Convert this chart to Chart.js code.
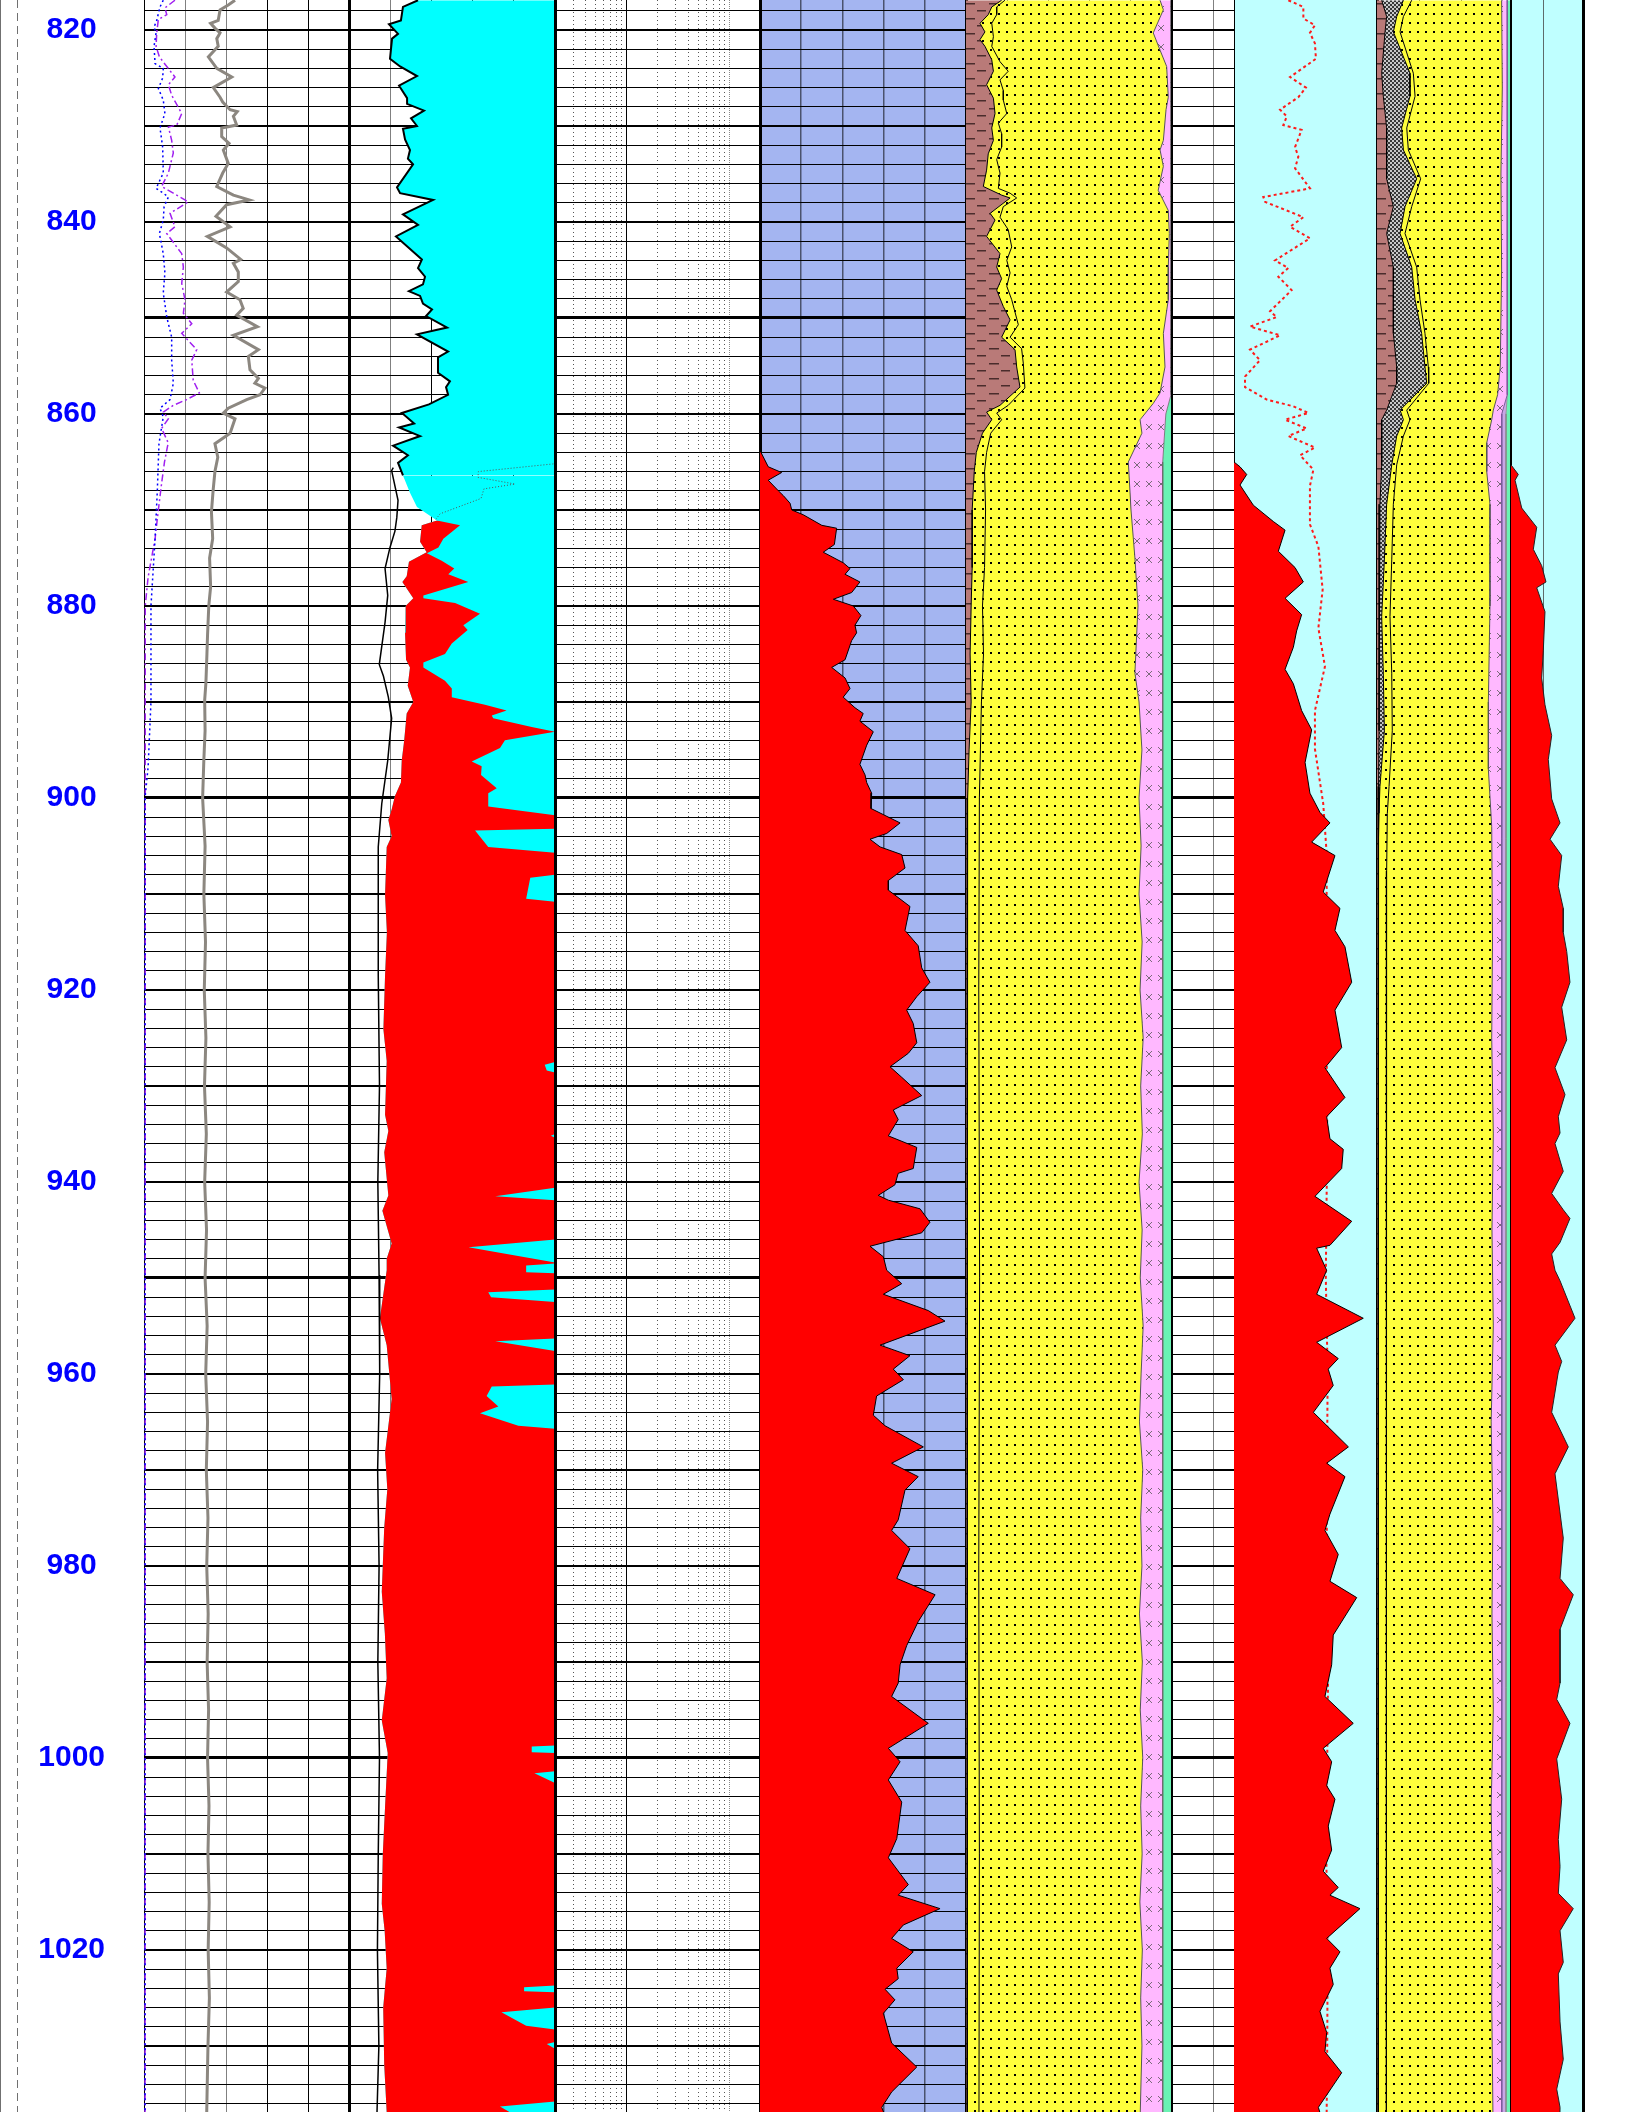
<!DOCTYPE html>
<html>
<head>
<meta charset="utf-8">
<title>Well log 817-1037 m</title>
<script src="https://cdn.jsdelivr.net/npm/chart.js@4.4.1/dist/chart.umd.min.js"></script>
<style>
  html, body { margin: 0; padding: 0; background: #fff; }
  #log { position: relative; width: 1632px; height: 2112px; overflow: hidden; }
  #log canvas { position: absolute; top: 0; }
</style>
</head>
<body>
<div id="log"></div>
<script>
// depth window of the sheet (m)
const TOP_DEPTH = 816.875;
const BASE_DEPTH = 1036.885;
const depthLabels = [820, 840, 860, 880, 900, 920, 940, 960, 980, 1000, 1020];

// ---- curves, [depth m, value in % of track width] ----
// track 1
const grLog = [[816.9,44.4],[817.4,41.1],[817.9,37.1],[819.0,36.2],[819.3,32.5],[819.8,34.6],[820.3,37.1],[820.9,35.5],[821.7,36.2],[822.8,31.4],[824.0,35.5],[824.9,42.8],[826.0,33.8],[827.0,37.1],[827.5,38.4],[828.3,42.0],[828.5,45.5],[829.0,43.6],[829.9,45.2],[830.2,37.9],[831.1,37.9],[831.8,41.5],[832.5,38.7],[833.9,41.1],[834.9,38.4],[836.3,35.5],[837.2,43.6],[837.7,51.4],[838.2,40.3],[839.4,35.1],[840.5,42.0],[841.5,30.9],[842.7,40.3],[843.9,47.2],[844.3,43.6],[845.2,46.0],[846.2,46.0],[847.3,40.3],[848.1,46.8],[849.0,48.4],[849.7,45.2],[850.9,55.3],[851.8,43.6],[853.3,55.8],[854.0,50.9],[855.4,51.7],[856.3,55.8],[856.8,54.1],[857.3,59.0],[858.0,56.6],[858.5,50.1],[859.4,41.1],[859.9,38.7],[860.5,44.4],[862,42],[863.1,34.6],[864.5,36],[866,34.6],[868,33.7],[870.2,32.9],[873,33.5],[875,32],[878,32.5],[880,31.6],[883,31],[885,30.7],[888,30.2],[889.8,29.6],[893,29.8],[896,29.2],[900,28.6],[905,29.8],[910,29.2],[915,30],[920,29.4],[925,30.2],[930,29.5],[935,30.4],[940,29.6],[945,30.5],[950,29.8],[955,30.8],[960,30.1],[965,31],[970,30.4],[975,31.2],[980,30.6],[985,31.3],[990,30.8],[995,31.5],[1000,31],[1005,31.7],[1010,31.2],[1015,31.8],[1020,31.3],[1025,31.9],[1030,31.2],[1036.9,30.6]];
const sonicLog = [[816.9,15.1],[817.7,10.2],[818.4,11.1],[818.9,7.0],[820.3,6.2],[821.7,5.9],[822.8,7.5],[823.8,11.1],[824.9,15.1],[825.7,11.9],[826.8,13.5],[828.7,18.4],[829.9,16.0],[830.1,11.9],[831.5,13.5],[832.8,14.3],[834.9,11.9],[836.3,8.6],[837.0,14.3],[837.9,21.6],[839.1,12.7],[840.5,15.1],[841.2,11.1],[843.3,18.4],[844.7,19.2],[846.4,18.4],[848.1,20.0],[849.5,19.2],[850.6,23.3],[851.6,18.4],[853.3,25.7],[854.4,23.3],[856.5,24.0],[857.8,27.0],[858.5,20.8],[859.1,14.3],[859.8,9.4],[860.5,11.9],[861.5,8.6],[863,11.8],[865,10],[867.2,8.6],[870,7],[873,5.4],[877,2],[880,0.6],[1036.9,0.5]];
const densityLog = [[816.9,9.4],[817.6,7.8],[819.0,6.2],[819.7,4.9],[820.3,5.9],[821.7,4.9],[823.5,5.4],[824.0,9.4],[825.0,9.1],[826.1,7.0],[827.3,9.4],[828.7,10.2],[830.2,7.8],[832.2,9.1],[834.9,9.4],[836.5,5.9],[837.0,9.4],[837.4,11.9],[838.4,9.8],[839.8,9.4],[841.2,7.5],[843.3,9.4],[845.3,10.2],[847.4,9.4],[849.9,11.1],[852.0,13.5],[854.4,13.5],[856.8,14.3],[858.5,12.7],[859.4,7.8],[860.3,9.4],[863.1,7.3],[868,6.5],[873,5.4],[880,3.4],[890,3.4],[896.8,2],[900,0.5],[1036.9,0.5]];

// track 2
const rxoEdge = [[816.9,33.5],[817.6,26.2],[819.0,25.2],[819.4,19.4],[820.4,23.8],[820.9,20.9],[823.0,19.9],[823.8,24.8],[824.8,33.0],[825.8,24.3],[827.1,28.2],[827.7,28.2],[828.4,36.4],[829.2,30.1],[830.0,33.0],[830.3,26.2],[831.4,27.2],[832.5,29.6],[833.4,28.6],[834.0,31.1],[836.4,23.3],[837.0,24.8],[837.7,40.8],[839.2,26.2],[840.3,33.5],[841.5,22.8],[843.9,35.4],[844.8,33.5],[845.7,36.9],[846.5,35.9],[847.2,29.1],[847.7,34.5],[848.5,35.9],[849.1,40.3],[849.8,37.4],[851.0,47.6],[851.7,33.0],[853.5,48.1],[854.1,43.2],[855.7,43.2],[856.6,49.0],[857.2,47.1],[858.0,48.1],[859.0,38.8],[859.9,25.7],[861.0,31.6],[861.4,24.3],[862.3,34.5],[863.3,21.4],[864.3,28.6],[865.1,23.8],[866.4,26.2],[868.2,29.6],[869.7,33.0],[871.1,42.7],[871.6,35.3],[873.3,34.5],[874.4,37.7],[875.4,29.1],[876.9,28.0],[877.5,25.9],[879.2,31.2],[880.0,27.5],[882.8,27.2],[885.6,27.7],[886.4,29.6],[888.3,28.5],[890.0,31.2],[891.2,28.0],[894.0,26.8],[896.1,25.6],[898.4,25.2],[899.8,22.3],[901.2,20.7],[902.3,19.1],[904.0,20.7],[905.1,18.3],[910.1,17.5],[914,18.4],[918.5,17.5],[924.1,16.7],[927.4,18.3],[933.0,17.5],[934.7,19.1],[936.9,17.1],[941.4,19.1],[943.0,16.2],[946.4,20.7],[948.0,18.3],[949.2,18.3],[954.2,15.0],[957.0,18.3],[962.6,20.7],[968.2,17.5],[972,18.6],[976.0,17.1],[982.7,15.9],[987,17.4],[991.7,18.3],[996.1,15.9],[999.5,18.8],[1005.1,17.5],[1010,16.4],[1015.2,15.9],[1018,17.3],[1021.9,18.3],[1026,16.6],[1032.0,17.1],[1036.9,18.3]];
const rtEdge = [[871.1,42.7],[871.6,53.9],[873.0,45.8],[873.9,43.4],[874.5,37.8],[875.3,45.0],[876.1,51.1],[876.7,48.2],[877.5,57.9],[878.9,36.1],[879.2,36.1],[879.7,51.5],[880.8,63.6],[882.0,55.5],[882.5,57.6],[883.9,49.9],[885.0,46.6],[885.9,36.1],[886.4,36.1],[887.8,46.6],[888.6,49.9],[889.5,49.9],[890.3,66.0],[890.9,76.5],[891.4,69.3],[891.7,70.0],[892.6,88.7],[893.1,100],[894.0,75.7],[894.8,73.3],[896.2,59.6],[896.7,64.4],[897.6,64.1],[899.0,71.7],[899.5,67.6],[900.9,67.6],[901.8,100],[903.2,100],[903.4,61.2],[905.1,67.6],[905.7,100],[908.0,100],[908.3,88],[910.5,86],[910.8,100],[927.5,100],[927.8,95],[928.4,96],[928.6,100],[935.0,100],[935.2,98],[935.4,100],[940.6,100],[941.5,71],[941.9,100],[946.0,100],[946.8,58],[948.4,100],[948.5,100],[948.7,86],[949.4,86],[949.5,100],[951.2,100],[951.5,67.6],[952.0,69],[952.5,100],[956.3,100],[956.6,71],[957.6,100],[961.1,100],[961.3,69.3],[962.3,66.8],[963.4,72.5],[964.1,63.6],[965.4,82.2],[965.7,100],[998.7,100],[998.8,88.7],[999.4,88.7],[999.5,100],[1001.4,100],[1001.6,90],[1002.6,100],[1023.7,100],[1023.9,85],[1024.3,85],[1024.4,100],[1026.0,100],[1026.5,74],[1027.9,86],[1028.3,100],[1029.6,100],[1029.8,96],[1030.3,100],[1035.8,100],[1036.3,73.3],[1036.9,78]];
const rtTransition = [[865.2,99.2],[866.0,62.8],[866.6,62.6],[867.3,80.6],[867.8,65.5],[868.8,64.1],[870.4,44.2],[871.1,41.7]];
const caliper = [[865.6,21.5],[865.9,20.7],[869.0,23.8],[870.8,23.2],[872.2,22.3],[873.9,19.9],[876.1,17.5],[878.9,18.8],[881.7,17.5],[886.1,14.7],[887.3,16.7],[889.5,19.1],[891.7,20.7],[896.1,18.8],[900.6,15.9],[905.1,14.2],[918.5,14.2],[930,14.8],[940,14.0],[949.7,14.6],[960,14.9],[970,13.9],[980,14.6],[990,14.0],[1000,14.8],[1010,14.2],[1020,13.8],[1030,14.5],[1036.9,13.6]];

// track 4
const porosity = [[863.8,0],[865.5,4.0],[866.1,10.5],[866.9,4.0],[868.0,8.9],[868.5,11.3],[869.3,14.6],[870.0,15.4],[870.5,21.0],[871.6,30.0],[871.9,37.2],[873.6,36.1],[874.4,30.7],[875.5,40.4],[876.1,43.7],[876.7,41.3],[877.5,48.5],[878.6,44.5],[879.3,35.6],[880.0,45.3],[881.0,49.0],[882.0,46.1],[882.8,46.9],[883.6,44.5],[885.6,41.3],[886.4,34.8],[887.5,41.3],[888.6,43.7],[889.5,40.4],[890.6,46.1],[891.2,50.1],[892.0,48.5],[893.1,55.0],[894.5,51.8],[896.5,48.5],[897.6,51.0],[898.4,51.8],[899.5,54.2],[901.1,53.9],[902.6,68.0],[903.7,61.5],[904.3,53.4],[905.1,58.3],[905.9,68.8],[907.3,70.4],[908.6,62.3],[909.6,62.3],[911.3,72.8],[913.8,70.4],[915.4,76.8],[917.7,78.5],[919.2,82.5],[920.7,76.1],[922.1,71.2],[923.5,74.4],[925.5,76.1],[926.6,72.0],[928.0,63.1],[929.1,68.8],[931.0,78.5],[932.5,64.7],[933.5,67.1],[935.2,62.3],[936.4,76.1],[938.6,74.4],[939.1,67.1],[940.3,65.5],[941.4,57.4],[941.9,62.3],[942.8,77.7],[944.2,82.5],[945.3,78.5],[946.7,53.4],[947.8,59.9],[949.2,61.5],[950.6,68.8],[951.7,59.9],[953.4,81.7],[954.5,89.8],[957.0,58.3],[958.1,72.8],[959.5,64.7],[960.6,69.6],[962.3,56.6],[964.3,55.0],[965.4,60.7],[967.6,79.3],[969.3,63.9],[970.7,76.8],[972.1,70.4],[975.2,67.1],[976.3,63.9],[978.2,72.8],[981.3,66.4],[983.0,85.0],[985.8,76.8],[988.3,71.2],[990.3,68.0],[992.2,67.1],[993.6,63.9],[996.4,81.7],[999.0,62.3],[1000.4,68.0],[1002.3,62.3],[1004.6,68.8],[1008.4,66.4],[1010.4,62.3],[1013.2,72.0],[1014.3,67.1],[1015.7,87.4],[1017.4,69.6],[1018.8,63.9],[1020.2,74.4],[1021.9,66.4],[1023.0,67.1],[1024.1,60.7],[1025.2,65.5],[1026.6,59.9],[1029.7,63.9],[1032.2,76.1],[1034.8,63.9],[1036.4,59.1],[1036.9,60]];

// track 5 lithology boundaries (cumulative %)
const shaleA = [[816.9,17.3],[817.6,12.5],[818.4,10.8],[819.3,6.8],[820.2,9.2],[821.0,6.8],[821.7,9.2],[823.1,12.5],[824.3,13.3],[825.7,10.0],[827.1,13.3],[828.7,14.1],[830.2,12.5],[831.5,13.3],[832.9,10.8],[834.6,10.0],[836.3,8.4],[837.2,17.3],[837.5,21.4],[839.1,11.7],[839.8,14.1],[841.5,10.0],[843.3,16.5],[844.7,14.9],[845.9,17.3],[847.1,14.9],[848.8,18.1],[850.2,21.4],[852.0,17.3],[853.3,23.8],[855.1,24.6],[857.2,26.2],[859.1,16.5],[859.8,10.0],[860.6,12.5],[862,8],[864,5],[866,4],[870,3],[876,3],[880,2.5],[885,2],[890,2.5],[895,1.5],[900,0.8],[1036.9,0.6]];
const siltA = [[816.9,18.9],[817.6,14.9],[818.4,14.9],[819.3,12.5],[820.7,13.3],[821.7,12.5],[823.3,16.5],[824.3,20.5],[825.2,16.5],[826.3,18.1],[827.3,18.1],[828.7,19.8],[829.7,15.7],[830.8,17.3],[832.2,17.3],[833.5,14.9],[834.9,16.5],[836.5,15.7],[837.0,21.4],[837.5,24.6],[838.4,18.1],[839.5,16.5],[840.8,20.5],[842.6,22.2],[844.0,19.8],[845.3,21.4],[846.7,19.8],[848.1,22.2],[850.7,25.4],[852.0,21.4],[853.2,27.0],[854.7,27.8],[857.3,28.6],[859.1,20.5],[859.9,14.9],[860.6,17.3],[862,12],[864,10],[866,9],[870,9.5],[876,9],[880,8],[885,8.5],[890,7.5],[895,7],[900,6.5],[920,6.2],[950,6.6],[980,6.2],[1010,6.5],[1036.9,6.3]];
const sandA = [[816.9,94.2],[817.9,95.8],[820.3,90.9],[822.1,94.2],[823.8,97.4],[827.0,98.2],[828.3,97.1],[831.5,95.8],[832.5,94.2],[834.2,95.8],[836.7,93.3],[838.8,98.2],[841.2,98.7],[844.7,98.2],[848.1,98.2],[851.6,95.8],[855.1,96.6],[857.8,94.2],[858.9,90.9],[860.6,84.5],[862,85.4],[865,78.8],[870,80.1],[875,82],[880,83.5],[887,82],[890,84],[895,85.4],[900,84],[905,85],[910,84],[915,85.5],[920,84.5],[925,86],[930,84.8],[935,85.6],[940,84],[945,85.5],[950,84.6],[955,86],[960,85],[965,84.2],[970,85.8],[975,84.8],[980,85.4],[985,84.2],[990,85.6],[995,84.6],[1000,85.8],[1005,84.8],[1010,85.5],[1015,84.4],[1020,85.6],[1025,84.8],[1030,85.4],[1036.9,84.6]];
const anhydA = [[816.9,99.5],[858,99.5],[860,97],[865,95.5],[1036.9,95.5]];

// track 7
const waterSat = [[865.0,0],[865.5,4.2],[866.3,8.9],[867.4,4.2],[869.5,13.5],[871.2,27.5],[872.1,35.7],[874.3,31.0],[876.0,42.7],[877.5,48.5],[879.2,35.7],[880.9,47.3],[882.6,43.8],[884.3,41.5],[886.6,35.7],[888.1,41.5],[890.9,47.3],[892.9,54.3],[896.3,49.7],[899.5,53.1],[901.5,60.1],[902.6,67.1],[904.6,54.3],[906.0,70.6],[909.8,62.4],[911.5,74.1],[913.8,70.6],[915.5,77.6],[919.2,82.3],[922.1,70.6],[926.0,75.3],[928.1,63.6],[931.2,77.6],[933.2,64.8],[935.5,67.1],[936.6,76.4],[938.6,75.3],[941.5,56.6],[944.1,82.3],[946.6,67.1],[946.9,57.8],[949.2,64.8],[951.7,57.8],[954.2,90.4],[956.7,57.8],[958.4,72.9],[959.5,65.9],[961.2,69.4],[964.0,55.5],[967.6,80.0],[969.3,64.8],[970.7,77.6],[974.6,67.1],[976.3,63.6],[978.8,72.9],[981.6,67.1],[983.3,85.8],[987.2,69.4],[990.3,68.3],[993.6,63.6],[996.4,83.4],[999.0,62.4],[1000.4,68.3],[1002.9,64.8],[1004.3,70.6],[1007.1,65.9],[1009.6,68.3],[1011.8,62.4],[1013.5,72.9],[1014.3,67.1],[1015.7,88.1],[1018.8,64.8],[1020.2,74.1],[1021.9,67.1],[1023.6,69.4],[1026.4,60.1],[1028.6,64.8],[1030.6,63.6],[1032.8,75.3],[1036.4,59.0],[1036.9,60]];
const waterSatRef = [[816.9,38.0],[817.6,48.5],[818.8,48.5],[819.5,56.6],[820.3,53.1],[821.4,56.6],[823.0,57.3],[824.9,39.2],[826.0,50.3],[827.0,45.0],[828.3,32.2],[829.0,36.9],[829.9,34.5],[830.4,47.3],[832.2,42.7],[833.2,45.0],[834.4,42.7],[836.5,53.1],[837.4,20.5],[837.9,21.7],[839.5,48.5],[840.5,39.2],[841.7,53.1],[844.0,28.7],[844.8,38.0],[845.7,31.0],[847.1,40.3],[849.3,25.2],[849.9,29.9],[850.9,11.2],[851.8,32.2],[853.3,11.2],[854.4,18.2],[856.1,7.7],[857.2,7.7],[858.5,22.9],[859.2,41.5],[859.9,52.0],[860.6,35.7],[861.5,50.8],[862.3,38.0],[863.5,56.6],[864.3,46.2],[865.8,55.5],[867.5,53.1],[871.5,53.1],[873.8,59.0],[878.3,62.0],[882.3,59.0],[886.3,63.6],[890.9,56.6],[894.9,56.6],[900.6,62.4],[905.8,64.8],[909.2,64.8],[920,64.5],[935,65.2],[950,64.2],[960,65.5],[975,64.8],[990,65.9],[1000,65.2],[1010,64.5],[1020,65.5],[1030,65.2],[1036.9,64.8]];

// track 8 lithology boundaries (cumulative %)
const shaleB = [[816.9,3.5],[818.6,7.2],[820.2,6.0],[824.5,3.5],[826.9,4.7],[830.2,7.2],[832.5,7.2],[835.5,7.2],[838.4,12.2],[841.2,7.2],[844.7,12.2],[848.1,12.2],[851.6,12.2],[855.1,14.7],[856.8,14.7],[859.6,7.2],[860.6,3.5],[862.3,3.5],[865.3,3.5],[869.4,2.2],[875.2,1.7],[881.1,1.5],[887,1.5],[893,1.5],[898.8,1.2],[901.6,1],[1036.9,0.8]];
const coalB = [[816.9,19.7],[818.6,14.7],[820.2,12.2],[824.5,24.6],[826.9,24.6],[830.2,18.4],[832.5,19.7],[835.5,29.6],[838.4,20.9],[841.2,17.2],[844.7,25.9],[848.1,28.4],[851.6,33.3],[855.1,35.8],[856.8,37.1],[859.6,17.2],[860.6,19.7],[862.3,14.7],[865.3,11.0],[869.4,7.2],[875.2,5.5],[881.1,3.5],[887,4.7],[893,5.5],[898.8,2.2],[901.6,1.5],[905,1],[1036.9,0.8]];
const siltB = [[816.9,25.9],[818.6,19.7],[820.2,17.2],[824.5,27.1],[826.9,28.4],[830.2,22.2],[832.5,23.4],[835.5,32.6],[838.4,25.9],[841.2,20.9],[844.7,29.6],[848.1,32.1],[851.6,35.8],[855.1,38.3],[856.8,38.6],[859.6,22.2],[860.6,24.6],[862.3,19.7],[865.3,14.7],[869.4,12.2],[875.2,11.0],[881.1,9.7],[887,11.0],[893,11.4],[898.8,9.0],[901.6,7.7],[907.6,7.2],[1036.9,7.0]];
const sandB = [[816.9,93],[826,93.5],[835,92.5],[845,93],[855,92],[858,90],[859.6,86.8],[860.6,85.6],[863,81.9],[866,81.9],[869.4,84.3],[880,84.3],[890,83.1],[897,83.1],[903,85.6],[915,86.2],[925,85.6],[935,86.8],[945,85.8],[955,86.8],[965,85.2],[975,86.5],[985,85.8],[995,86.8],[1005,85.2],[1015,86.2],[1025,85.6],[1036.9,86.5]];
const anhydB = [[816.9,97.2],[858,97.2],[860,93.1],[1036.9,93.1]];
const dolB = [[816.9,97.2],[858,97.2],[860,96.3],[1036.9,96.3]];

// track 9
const hydrocarbon = [[865.3,0],[866.3,10.1],[866.9,5.6],[869.8,14.9],[871.8,35.7],[874.1,31.0],[875.8,42.6],[877.5,48.6],[878.1,35.7],[880.6,47.2],[884.6,44.9],[887.5,42.6],[890.3,47.2],[893.5,56.5],[896.0,51.8],[900.1,56.5],[902.6,68.1],[904.3,54.2],[906.0,70.4],[909.2,65.7],[911.5,72.6],[914.0,72.6],[916.0,77.4],[919.2,81.9],[921.8,70.4],[925.2,77.4],[928.1,61.1],[930.9,75.0],[933.2,65.7],[934.9,68.1],[936.0,61.1],[938.9,72.6],[941.2,56.5],[942.9,72.6],[943.8,81.9],[946.3,68.1],[947.5,56.5],[949.2,61.1],[950.3,68.1],[954.2,88.9],[957.0,61.1],[958.7,70.4],[959.8,65.7],[964.0,56.5],[967.6,79.6],[970.4,61.1],[977.1,72.6],[981.3,68.1],[983.0,86.5],[986.6,68.1],[992.2,68.1],[993.9,63.5],[996.4,81.9],[1000.1,63.5],[1004.3,70.4],[1008.5,65.7],[1011.3,68.1],[1014.1,65.7],[1015.7,86.5],[1018.0,68.1],[1021.3,72.6],[1022.5,65.7],[1027.5,68.1],[1031.4,72.6],[1034.5,63.5],[1036.4,68.1],[1036.9,68]];

// ---------------------------------------------------------------
const LOG_H = 2112;
const PAD = 3;
const wrap = document.getElementById('log');

const gridDepths = [];
for (let d = 818; d <= 1036; d += 2) gridDepths.push(d);

const trackBackground = {
  id: 'trackBackground',
  beforeDraw(chart, args, opts) {
    if (!opts.color) return;
    const {ctx, chartArea: a} = chart;
    ctx.save();
    ctx.fillStyle = opts.color;
    ctx.fillRect(a.left, a.top, a.right - a.left, a.bottom - a.top);
    ctx.restore();
  }
};
Chart.register(trackBackground);

function pattern(w, h, bg, paint) {
  const c = document.createElement('canvas');
  c.width = w; c.height = h;
  const g = c.getContext('2d');
  g.fillStyle = bg;
  g.fillRect(0, 0, w, h);
  paint(g);
  return g.createPattern(c, 'repeat');
}
const shaleFill = pattern(24, 15, '#b97a78', g => {
  g.fillStyle = '#4a2c2c';
  g.fillRect(2, 3, 10, 1.5);
  g.fillRect(14, 10, 9, 1.5);
});
const sandFill = pattern(8, 9, '#ffff3c', g => {
  g.fillStyle = '#000';
  g.fillRect(3, 4, 2, 2);
});
const anhydFill = pattern(12, 19, '#ffb8ff', g => {
  g.strokeStyle = '#7a6a7a';
  g.lineWidth = 1;
  g.beginPath();
  g.moveTo(3, 6); g.lineTo(9, 12);
  g.moveTo(9, 6); g.lineTo(3, 12);
  g.stroke();
});
const coalFill = pattern(4, 4, '#c8c8c8', g => {
  g.fillStyle = '#383838';
  g.fillRect(0, 0, 2, 2);
  g.fillRect(2, 2, 2, 2);
});

function curve(data, o) {
  return Object.assign({
    data: data.map(([d, v]) => ({x: v, y: d})),
    xAxisID: 'x', yAxisID: 'y',
    pointRadius: 0, borderWidth: 1, borderColor: '#000',
    fill: false, tension: 0
  }, o);
}

function depthLineWidth(c) {
  if (!c.tick) return 1;
  const v = c.tick.value;
  return v % 50 === 0 ? 3 : v % 10 === 0 ? 2 : 1;
}

function addCanvas(left, width) {
  const canvas = document.createElement('canvas');
  canvas.width = width;
  canvas.height = LOG_H;
  canvas.style.left = left + 'px';
  canvas.style.width = width + 'px';
  canvas.style.height = LOG_H + 'px';
  wrap.appendChild(canvas);
  return canvas;
}

// one chart per track, each on its own canvas
function addTrack(left, right, cfg) {
  const canvas = addCanvas(left - PAD, right - left + PAD * 2);
  const lines = cfg.lines || [];
  const edges = cfg.edges || [1, 1];
  return new Chart(canvas, {
    type: 'line',
    data: {datasets: cfg.datasets || []},
    options: {
      indexAxis: 'y',
      responsive: false,
      animation: false,
      devicePixelRatio: 1,
      events: [],
      layout: {padding: {left: PAD, right: PAD, top: 0, bottom: 0}},
      elements: {point: {radius: 0}, line: {tension: 0}},
      plugins: {
        legend: {display: false},
        tooltip: {enabled: false},
        trackBackground: {color: cfg.background}
      },
      scales: {
        x: {
          type: cfg.log ? 'logarithmic' : 'linear',
          min: cfg.min !== undefined ? cfg.min : 0,
          max: cfg.max !== undefined ? cfg.max : 100,
          position: 'bottom',
          display: lines.length > 0,
          z: cfg.gridOnTop ? 1 : 0,
          afterBuildTicks: s => { s.ticks = lines.map(l => ({value: l.v})); },
          ticks: {display: false},
          grid: {
            drawTicks: false,
            color: c => (lines[c.index] || {}).color || '#000',
            lineWidth: c => (lines[c.index] || {}).width || 1
          },
          border: {display: false, dash: c => (lines[c.index] || {}).dash || []}
        },
        y: {
          type: 'linear',
          reverse: true,
          min: TOP_DEPTH,
          max: BASE_DEPTH,
          display: !!cfg.depthGrid,
          z: cfg.gridOnTop ? 1 : 0,
          afterBuildTicks: s => { s.ticks = gridDepths.map(v => ({value: v})); },
          ticks: {display: false},
          grid: {drawTicks: false, color: '#000', lineWidth: depthLineWidth},
          border: {display: false}
        },
        xEdge: {
          axis: 'x',
          type: 'linear',
          position: 'top',
          min: 0,
          max: 1,
          z: 2,
          afterBuildTicks: s => { s.ticks = [{value: 0}, {value: 1}]; },
          ticks: {display: false},
          grid: {drawTicks: false, color: '#000', lineWidth: c => edges[c.index] || 0},
          border: {display: false}
        }
      }
    }
  });
}

// depth column with labels
const depthDecor = {
  id: 'depthDecor',
  afterDraw(chart) {
    const ctx = chart.ctx;
    ctx.save();
    ctx.strokeStyle = '#707070';
    ctx.lineWidth = 1;
    ctx.beginPath();
    ctx.moveTo(0.5, 0); ctx.lineTo(0.5, LOG_H);
    ctx.stroke();
    ctx.setLineDash([8, 5]);
    ctx.beginPath();
    ctx.moveTo(17.5, 0); ctx.lineTo(17.5, LOG_H);
    ctx.stroke();
    ctx.restore();
  }
};
new Chart(addCanvas(0, 144), {
  type: 'line',
  data: {datasets: []},
  options: {
    responsive: false, animation: false, devicePixelRatio: 1, events: [],
    layout: {padding: 0},
    plugins: {legend: {display: false}, tooltip: {enabled: false}},
    scales: {
      x: {display: false},
      y: {
        type: 'linear', reverse: true, min: TOP_DEPTH, max: BASE_DEPTH, position: 'left',
        afterBuildTicks: s => { s.ticks = depthLabels.map(v => ({value: v})); },
        // labels sit inside the column, so no extra room above/below the axis
        afterFit: s => { s.width = 105; s.paddingTop = 0; s.paddingBottom = 0; },
        ticks: {
          color: '#0000ff',
          font: {family: '"Liberation Sans", Arial, sans-serif', size: 30, weight: 'bold'},
          crossAlign: 'center', padding: 0, autoSkip: false,
          callback: v => String(v)
        },
        grid: {display: false, drawTicks: false},
        border: {display: false}
      }
    }
  },
  plugins: [depthDecor]
});

const GRAY = '#808080';

// track 1: gamma ray and two porosity-type curves
addTrack(144, 349, {
  edges: [1, 3], depthGrid: true,
  lines: [{v: 20, color: GRAY}, {v: 40, color: GRAY}, {v: 60}, {v: 80}],
  datasets: [
    curve(densityLog, {borderColor: '#0000ff', borderWidth: 1.5, borderDash: [2, 3]}),
    curve(sonicLog, {borderColor: '#a020f0', borderWidth: 1.5, borderDash: [7, 3, 2, 3]}),
    curve(grLog, {borderColor: '#8c8780', borderWidth: 3})
  ]
});

// track 2: invasion profile, red where the deep curve separates
addTrack(349, 555, {
  edges: [3, 3], depthGrid: true,
  lines: [{v: 20, color: GRAY}, {v: 40}, {v: 60}, {v: 80}],
  datasets: [
    curve(caliper, {borderWidth: 1.5, order: 0}),
    curve(rtTransition, {borderColor: '#555', borderWidth: 1, borderDash: [1, 2], order: 1}),
    curve(rxoEdge, {
      borderWidth: 2, order: 3,
      fill: {value: 100}, backgroundColor: '#00ffff',
      segment: {borderColor: c => c.p0.parsed.y < 865.5 ? '#000' : 'rgba(0,0,0,0)'}
    }),
    curve(rtEdge, {borderWidth: 0, order: 2, fill: 2, backgroundColor: '#ff0000'})
  ]
});

// track 3: empty log grid 2-200
const logLines = [];
[3, 4, 5, 6, 7, 8, 9].forEach(v => logLines.push({v, color: '#555', dash: [1, 3]}));
logLines.push({v: 10, color: '#000'});
[20, 30, 40, 50, 60, 70, 80, 90].forEach(v => logLines.push({v, color: '#555', dash: [1, 3]}));
logLines.push({v: 100, color: '#888', dash: [1, 1]});
addTrack(555, 760, {edges: [3, 3], depthGrid: true, log: true, min: 2, max: 200, lines: logLines});

// track 4: porosity over blue matrix
addTrack(760, 966, {
  edges: [3, 3], depthGrid: true, gridOnTop: true, background: '#a4b5f1',
  lines: [20, 40, 60, 80].map(v => ({v, color: 'rgba(0,0,0,0.55)', width: 1.5})),
  datasets: [curve(porosity, {fill: {value: 0}, backgroundColor: '#ff0000'})]
});

// track 5: lithology column
addTrack(966, 1172, {
  edges: [3, 2], gridOnTop: true,
  lines: [20, 40, 60, 80].map(v => ({v, color: 'rgba(0,0,0,0.65)'})),
  datasets: [
    curve(shaleA, {fill: {value: 0}, backgroundColor: shaleFill}),
    curve(siltA, {fill: 0, backgroundColor: sandFill}),
    curve(sandA, {fill: 1, backgroundColor: sandFill, borderColor: '#555'}),
    curve(anhydA, {fill: 2, backgroundColor: anhydFill, borderColor: '#666', borderWidth: 0.8}),
    curve(anhydA, {fill: {value: 100}, backgroundColor: '#6af2b4', borderWidth: 0})
  ]
});

// track 6: spare grid
addTrack(1172, 1234, {edges: [2, 1], depthGrid: true, lines: [{v: 66.7, color: GRAY}]});

// track 7: saturation
addTrack(1234, 1377, {
  edges: [1, 3], background: '#bfffff',
  datasets: [
    curve(waterSat, {fill: {value: 0}, backgroundColor: '#ff0000', order: 0}),
    curve(waterSatRef, {borderColor: '#ff1a1a', borderWidth: 2, borderDash: [3, 3], order: 1})
  ]
});

// track 8: second lithology column
addTrack(1377, 1511, {
  edges: [3, 2], gridOnTop: true,
  lines: [{v: 32, color: 'rgba(0,0,0,0.7)'}, {v: 63, color: 'rgba(0,0,0,0.7)'}, {v: 94, color: GRAY}],
  datasets: [
    curve(shaleB, {fill: {value: 0}, backgroundColor: shaleFill}),
    curve(coalB, {fill: 0, backgroundColor: coalFill}),
    curve(siltB, {fill: 1, backgroundColor: sandFill}),
    curve(sandB, {fill: 2, backgroundColor: sandFill, borderColor: '#555'}),
    curve(anhydB, {fill: 3, backgroundColor: anhydFill, borderColor: '#7a5a9a'}),
    curve(dolB, {fill: 4, backgroundColor: '#c9a6e6', borderColor: '#888', borderWidth: 0.8}),
    curve(dolB, {fill: {value: 100}, backgroundColor: '#6af2b4', borderWidth: 0})
  ]
});

// track 9: hydrocarbon flag
addTrack(1511, 1583, {
  edges: [2, 3], background: '#bfffff', gridOnTop: true,
  lines: [{v: 45, color: 'rgba(70,70,70,0.8)'}],
  datasets: [curve(hydrocarbon, {fill: {value: 0}, backgroundColor: '#ff0000', borderColor: '#222'})]
});
</script>
</body>
</html>
